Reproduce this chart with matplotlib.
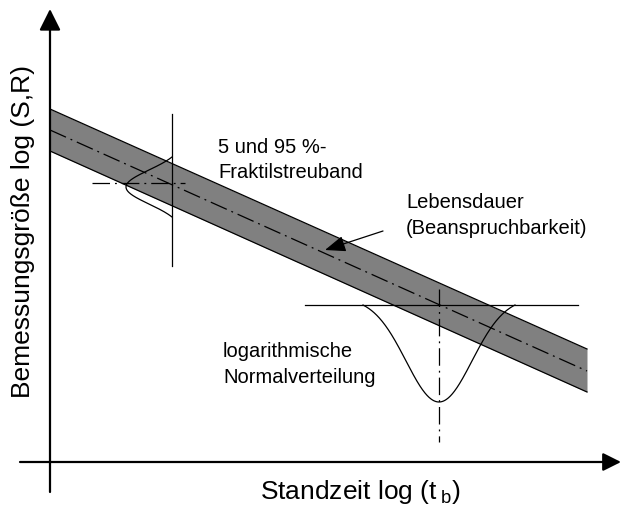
import numpy as np
import matplotlib.pyplot as plt

plt.rcParams['font.family'] = ['Liberation Sans', 'DejaVu Sans']
plt.rcParams['mathtext.fontset'] = 'custom'
plt.rcParams['mathtext.rm'] = 'Liberation Sans'

# schematic frame (drawing units, y grows downward like the sketch)
axis_x0, axis_y0 = 50, 463

# lifetime line with 5 / 95 % fractile scatter band
band_x = [50, 587]
band_top = [110, 350]
band_mid = [131, 372]
band_bot = [152, 393]

# small vertical distribution
d1_x, d1_y = 172, 188
d1_sigma, d1_height, d1_half = 17, 46, 30

# large log-normal distribution
d2_x, d2_y = 439, 306
d2_sigma, d2_depth, d2_half = 33, 97, 76


def bell(u, sigma, half):
    g = np.exp(-0.5 * (u / sigma) ** 2)
    g0 = np.exp(-0.5 * (half / sigma) ** 2)
    return (g - g0) / (1 - g0)


fig = plt.figure(figsize=(6.23, 5.06), dpi=100)
ax = fig.add_axes([0, 0, 1, 1])
ax.set_xlim(0, 623)
ax.set_ylim(506, 0)
ax.axis('off')

dashdot = (0, (14, 4, 1.5, 4))

# band
ax.fill_between(band_x, band_top, band_bot, color='#808080', lw=0)
ax.plot(band_x, band_top, color='k', lw=0.9)
ax.plot(band_x, band_bot, color='k', lw=0.9)
ax.plot(band_x, band_mid, color='k', lw=0.9, ls=dashdot)

# small distribution
ax.plot([d1_x, d1_x], [115, 267], color='k', lw=0.9)
ax.plot([92, 185], [184, 184], color='k', lw=0.9, ls=dashdot)
u = np.linspace(-d1_half, d1_half, 200)
ax.plot(d1_x - d1_height * bell(u, d1_sigma, d1_half), d1_y + u, color='k', lw=0.9)

# large distribution
ax.plot([305, 578], [d2_y, d2_y], color='k', lw=0.9)
ax.plot([d2_x, d2_x], [290, 443], color='k', lw=0.9, ls=dashdot)
u = np.linspace(-d2_half, d2_half, 300)
ax.plot(d2_x + u, d2_y + d2_depth * bell(u, d2_sigma, d2_half), color='k', lw=0.9)

# axes with arrows
ax.annotate('', xy=(axis_x0, 10), xytext=(axis_x0, 493),
            arrowprops=dict(arrowstyle='-|>,head_length=1.0,head_width=0.5',
                            color='k', lw=1.6, mutation_scale=13,
                            shrinkA=0, shrinkB=0))
ax.annotate('', xy=(621, axis_y0), xytext=(20, axis_y0),
            arrowprops=dict(arrowstyle='-|>,head_length=1.0,head_width=0.5',
                            color='k', lw=1.6, mutation_scale=11,
                            shrinkA=0, shrinkB=0))

# pointer to band
ax.annotate('', xy=(325, 251), xytext=(383, 232),
            arrowprops=dict(arrowstyle='-|>,head_length=0.9,head_width=0.35',
                            color='k', lw=0.9, mutation_scale=14,
                            shrinkA=0, shrinkB=0))

fs = 14.5
ax.text(218, 153, '5 und 95 %-', fontsize=fs, va='baseline')
ax.text(218, 178, 'Fraktilstreuband', fontsize=fs, va='baseline')
ax.text(406, 208, 'Lebensdauer', fontsize=fs, va='baseline')
ax.text(406, 234, '(Beanspruchbarkeit)', fontsize=fs, va='baseline')
ax.text(223, 357, 'logarithmische', fontsize=fs, va='baseline')
ax.text(223, 383, 'Normalverteilung', fontsize=fs, va='baseline')

ax.text(260, 499, r'Standzeit log (t$\,_\mathrm{b}$)', fontsize=19, va='baseline')
ax.text(30, 231, 'Bemessungsgröße log (S,R)', fontsize=19, rotation=90,
        rotation_mode='anchor', ha='center', va='baseline')

plt.savefig('out.png')
